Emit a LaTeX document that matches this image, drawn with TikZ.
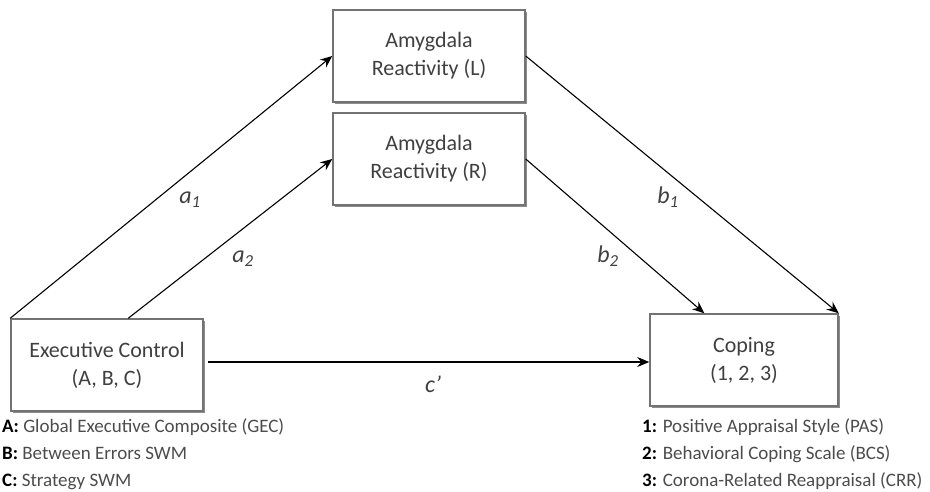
\documentclass[tikz,border=0pt]{standalone}
\usepackage{fontspec}
\setmainfont{Carlito}
\usetikzlibrary{arrows.meta,shadows}

\begin{document}
\begin{tikzpicture}[x=1pt,y=-1pt]
	\tikzstyle{box} = [draw=black!55, line width=1.5pt, fill=white, minimum width=192pt, minimum height=92pt, align=center, text=black!75, font=\fontsize{22}{28}\selectfont, drop shadow={shadow xshift=2pt, shadow yshift=-2pt, fill=black!45, opacity=1}]
	\tikzstyle{arr} = [-{Stealth[length=12pt,width=10pt,inset=4pt]}, line width=1.1pt]
	\tikzstyle{coef} = [inner sep=0pt, text=black!75, font=\fontsize{24}{24}\selectfont\itshape]
	\tikzstyle{key} = [inner sep=0pt, anchor=north west, align=left, text=black!70, font=\fontsize{19}{26.7}\selectfont]
	\useasboundingbox (0,0) rectangle (930,491);
	% boxes
	\node[box] (exec) at (107,365) {Executive Control\\(A, B, C)};
	\node[box, minimum width=188pt] (coping) at (744,360) {Coping\\(1, 2, 3)};
	\node[box] (amyL) at (429,56) {Amygdala\\Reactivity (L)};
	\node[box] (amyR) at (429,159) {Amygdala\\Reactivity (R)};
	% paths
	\draw[arr] (exec.north west) -- (amyL.west);
	\draw[arr] ([xshift=118pt]exec.north west) -- (amyR.west);
	\draw[arr] (amyL.east) -- (coping.north east);
	\draw[arr] (amyR.east) -- ([xshift=55pt]coping.north west);
	\draw[arr, shorten <=4pt] ([yshift=3pt]exec.east) -- ([yshift=3pt]exec.east -| coping.west);
	% coefficients
	\node[coef] (a1) at (190,200) {a\textsubscript{1}};
	\node[coef] (a2) at (243,259) {a\textsubscript{2}};
	\node[coef] (b1) at (668,197) {b\textsubscript{1}};
	\node[coef] (b2) at (608,256) {b\textsubscript{2}};
	\node[coef] (cp) at (433,384) {c’};
	% keys
	\node[key] (keyexec) at (2,418.5) {\textcolor{black}{\textbf{A:}} Global Executive Composite (GEC)\\\textcolor{black}{\textbf{B:}} Between Errors SWM\\\textcolor{black}{\textbf{C:}} Strategy SWM};
	\node[key] (keycoping) at (642,418.5) {\textcolor{black}{\textbf{1:}} Positive Appraisal Style (PAS)\\\textcolor{black}{\textbf{2:}} Behavioral Coping Scale (BCS)\\\textcolor{black}{\textbf{3:}} Corona-Related Reappraisal (CRR)};
\end{tikzpicture}
\end{document}
